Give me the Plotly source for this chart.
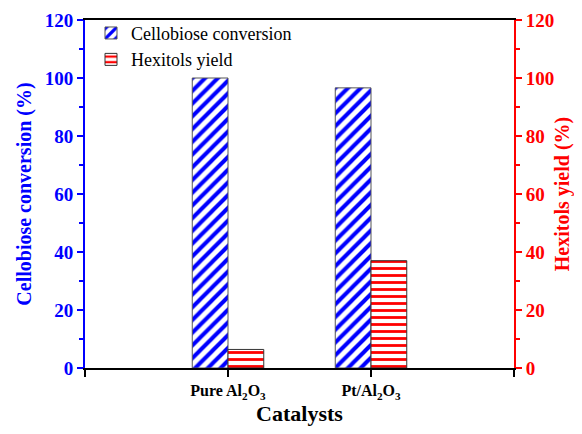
import plotly.graph_objects as go

categories = ["Pure Al<sub>2</sub>O<sub>3</sub>", "Pt/Al<sub>2</sub>O<sub>3</sub>"]
cellobiose_conversion = [100.0, 96.6]
hexitols_yield = [6.4, 37.0]

positions = list(range(1, len(categories) + 1))
FONT = "Liberation Serif"
BLUE = "#0000FF"
RED = "#FF0000"

fig = go.Figure()
fig.add_trace(go.Bar(
    x=positions, y=cellobiose_conversion, name="Cellobiose conversion",
    width=0.25, offset=-0.25, yaxis="y",
    marker=dict(color="white", line=dict(color="#555555", width=1),
                pattern=dict(shape="/", fgcolor=BLUE, bgcolor="white", size=9, solidity=0.45, fgopacity=1)),
))
fig.add_trace(go.Bar(
    x=positions, y=hexitols_yield, name="Hexitols yield",
    width=0.25, offset=0, yaxis="y2",
    marker=dict(color="white", line=dict(color="#333333", width=1),
                pattern=dict(shape="-", fgcolor=RED, bgcolor="white", size=7, solidity=0.4, fgopacity=1)),
))

tickvals = [0] + positions + [len(categories) + 1]
ticktext = [""] + categories + [""]

fig.update_layout(
    width=566, height=418,
    margin=dict(l=77, r=60, t=12, b=58, autoexpand=False),
    plot_bgcolor="white", paper_bgcolor="white",
    barmode="overlay",
    font=dict(family=FONT, color="black"),
    showlegend=True,
    legend=dict(x=0.014, y=1.015, xanchor="left", yanchor="top",
                bgcolor="rgba(0,0,0,0)", font=dict(family=FONT, size=18, color="black"),
                tracegroupgap=0, itemwidth=30),
    xaxis=dict(
        range=[0, len(categories) + 1], tickvals=tickvals, ticktext=ticktext,
        showline=True, linecolor="black", linewidth=2, mirror=True,
        ticks="outside", ticklen=7, tickwidth=2, tickcolor="black",
        showgrid=False, zeroline=False, automargin=False,
        tickfont=dict(family=FONT, size=16, color="black", weight="bold"),
        title=dict(text="Catalysts", font=dict(family=FONT, size=22, color="black", weight="bold"), standoff=12),
    ),
    yaxis=dict(
        range=[0, 120], dtick=20,
        showline=True, linecolor=BLUE, linewidth=2,
        ticks="outside", ticklen=6, tickwidth=2, tickcolor=BLUE,
        minor=dict(dtick=10, ticks="outside", ticklen=4, tickwidth=2, tickcolor=BLUE),
        showgrid=False, zeroline=False, automargin=False,
        tickfont=dict(family=FONT, size=19, color=BLUE, weight="bold"),
        title=dict(text="Cellobiose conversion (%)", font=dict(family=FONT, size=20, color=BLUE, weight="bold"), standoff=8),
    ),
    yaxis2=dict(
        range=[0, 120], dtick=20, overlaying="y", side="right",
        showline=True, linecolor=RED, linewidth=2,
        ticks="outside", ticklen=6, tickwidth=2, tickcolor=RED,
        minor=dict(dtick=10, ticks="outside", ticklen=4, tickwidth=2, tickcolor=RED),
        showgrid=False, zeroline=False, automargin=False,
        tickfont=dict(family=FONT, size=19, color=RED, weight="bold"),
        title=dict(text="Hexitols yield (%)", font=dict(family=FONT, size=20, color=RED, weight="bold"), standoff=6),
    ),
)

fig.write_html("out.html")
